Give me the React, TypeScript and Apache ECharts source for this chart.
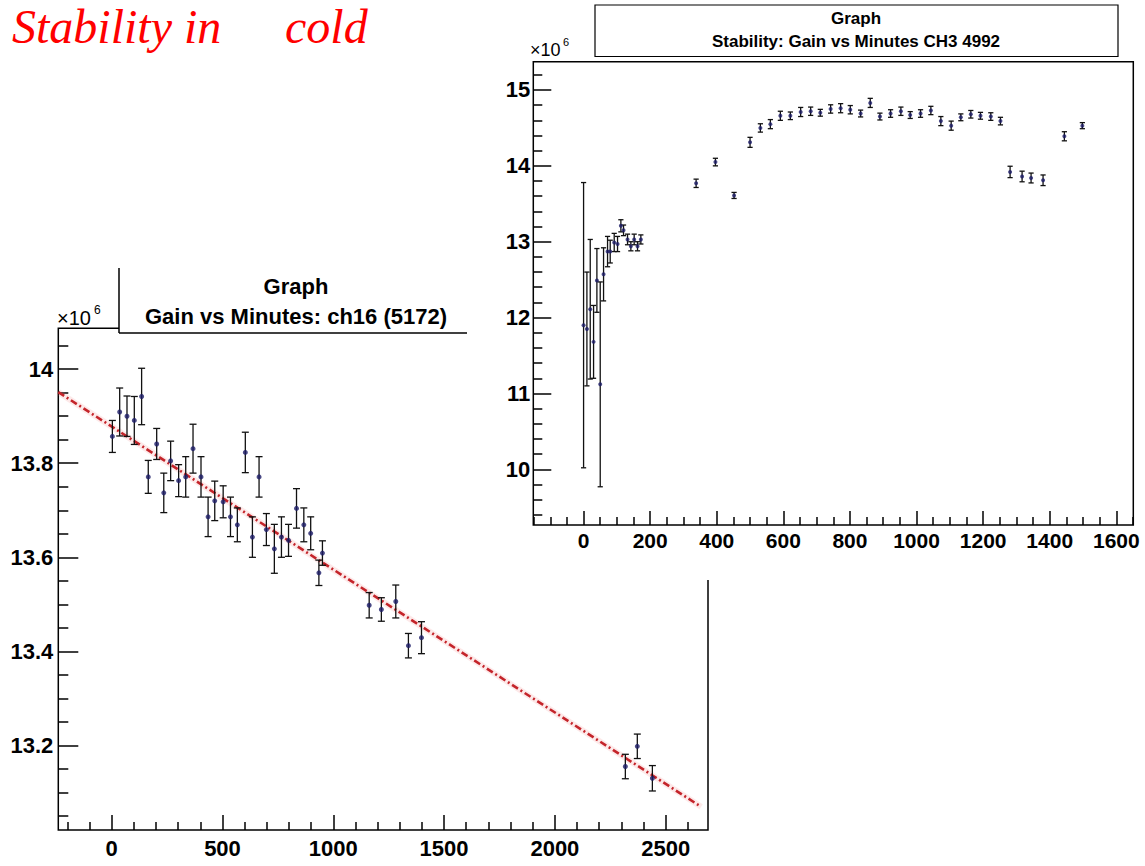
import { useEffect, useRef } from "react";
import * as echarts from "echarts";

// ---------- Left plot: Gain vs Minutes: ch16 (5172) ----------
const leftMinutes = [3, 36, 69, 102, 135, 165, 203, 235, 266, 302, 334, 367, 403, 435, 465, 503, 536, 567, 603, 635, 665, 698, 734, 766, 798, 834, 867, 898, 935, 951, 1162, 1217, 1282, 1339, 1398, 2318, 2372, 2440];
const leftGain = [13.857, 13.909, 13.9, 13.891, 13.942, 13.771, 13.841, 13.737, 13.805, 13.763, 13.771, 13.831, 13.771, 13.686, 13.72, 13.718, 13.686, 13.669, 13.823, 13.643, 13.771, 13.659, 13.618, 13.643, 13.636, 13.704, 13.669, 13.651, 13.567, 13.609, 13.498, 13.489, 13.506, 13.412, 13.429, 13.155, 13.198, 13.13];
const leftErr = [0.034, 0.051, 0.043, 0.051, 0.06, 0.035, 0.033, 0.042, 0.042, 0.034, 0.043, 0.052, 0.043, 0.042, 0.042, 0.034, 0.042, 0.036, 0.043, 0.043, 0.043, 0.034, 0.052, 0.043, 0.034, 0.042, 0.036, 0.035, 0.027, 0.026, 0.027, 0.025, 0.035, 0.026, 0.034, 0.026, 0.026, 0.027];
// linear fit (x10^6)
const fitIntercept = 13.878;
const fitSlope = -3.04e-4;
const fitRange = [-241, 2660];

const leftXRange = [-241, 2691];
const leftYRange = [13.02, 14.087];
const leftXMajor = [0, 500, 1000, 1500, 2000, 2500];
const leftXMinor = [-200, -100, 100, 200, 300, 400, 600, 700, 800, 900, 1100, 1200, 1300, 1400, 1600, 1700, 1800, 1900, 2100, 2200, 2300, 2400, 2600];
const leftYMajor = [13.2, 13.4, 13.6, 13.8, 14];
const leftYMinor = [13.05, 13.1, 13.15, 13.25, 13.3, 13.35, 13.45, 13.5, 13.55, 13.65, 13.7, 13.75, 13.85, 13.9, 13.95, 14.05];

// ---------- Right plot: Stability: Gain vs Minutes CH3 4992 ----------
const rightMinutes = [0, 10, 20, 30, 40, 50, 60, 72, 80, 92, 102, 112, 120, 132, 142, 152, 162, 172, 338, 396, 452, 500, 531, 561, 591, 621, 652, 682, 711, 742, 772, 801, 832, 861, 890, 922, 953, 981, 1012, 1043, 1073, 1104, 1133, 1163, 1192, 1223, 1252, 1281, 1317, 1344, 1380, 1444, 1498];
const rightGain = [11.9, 11.85, 12.11, 11.68, 12.49, 11.12, 12.57, 12.87, 12.87, 12.99, 12.97, 13.21, 13.15, 13.03, 12.94, 13.03, 12.94, 13.03, 13.77, 14.05, 13.61, 14.31, 14.5, 14.55, 14.66, 14.66, 14.71, 14.72, 14.7, 14.75, 14.76, 14.74, 14.69, 14.83, 14.65, 14.69, 14.72, 14.67, 14.69, 14.73, 14.59, 14.53, 14.64, 14.68, 14.66, 14.65, 14.59, 13.92, 13.86, 13.84, 13.81, 14.39, 14.53];
const rightErr = [1.88, 0.75, 0.92, 0.48, 0.42, 1.35, 0.35, 0.2, 0.15, 0.12, 0.1, 0.08, 0.07, 0.07, 0.06, 0.07, 0.06, 0.06, 0.055, 0.05, 0.04, 0.066, 0.055, 0.06, 0.06, 0.05, 0.06, 0.055, 0.045, 0.055, 0.06, 0.055, 0.045, 0.06, 0.045, 0.05, 0.055, 0.045, 0.05, 0.055, 0.06, 0.06, 0.045, 0.05, 0.045, 0.05, 0.05, 0.075, 0.07, 0.065, 0.07, 0.06, 0.04];

const rightXRange = [-151, 1651];
const rightYRange = [9.266, 15.373];
const rightXMajor = [0, 200, 400, 600, 800, 1000, 1200, 1400, 1600];
const rightXMinor = [-150, -100, -50, 50, 100, 150, 250, 300, 350, 450, 500, 550, 650, 700, 750, 850, 900, 950, 1050, 1100, 1150, 1250, 1300, 1350, 1450, 1500, 1550, 1650];
const rightYMajor = [10, 11, 12, 13, 14, 15];
const rightYMinor = [9.4, 9.6, 9.8, 10.2, 10.4, 10.6, 10.8, 11.2, 11.4, 11.6, 11.8, 12.2, 12.4, 12.6, 12.8, 13.2, 13.4, 13.6, 13.8, 14.2, 14.4, 14.6, 14.8, 15.2];

const FONT = '"Liberation Sans Narrow", "Liberation Sans", Arial, sans-serif';
const SERIF = '"Liberation Serif", "Times New Roman", serif';

function errorBarRenderer(cap: number) {
  return (_params: any, api: any) => {
    const x = api.value(0);
    const y = api.value(1);
    const e = api.value(2);
    const c = api.coord([x, y]);
    const hi = api.coord([x, y + e]);
    const lo = api.coord([x, y - e]);
    const style = { stroke: "#111", lineWidth: 1.3 };
    return {
      type: "group",
      children: [
        { type: "line", shape: { x1: c[0], y1: hi[1], x2: c[0], y2: lo[1] }, style },
        { type: "line", shape: { x1: c[0] - cap, y1: hi[1], x2: c[0] + cap, y2: hi[1] }, style },
        { type: "line", shape: { x1: c[0] - cap, y1: lo[1], x2: c[0] + cap, y2: lo[1] }, style },
      ],
    };
  };
}

function axisPair(
  kind: "x" | "y",
  gridIndex: number,
  range: number[],
  major: number[],
  minor: number[],
  majorLen: number,
  minorLen: number,
  labelSize: number,
  margin: number,
  z: number
) {
  const base = {
    type: "value",
    gridIndex,
    min: range[0],
    max: range[1],
    position: kind === "x" ? "bottom" : "left",
    z,
    axisLine: { show: false, onZero: false },
    splitLine: { show: false },
  };
  return [
    {
      ...base,
      axisTick: { show: true, inside: true, length: majorLen, customValues: major, lineStyle: { color: "#000", width: 1.5 } },
      axisLabel: {
        show: true,
        customValues: major,
        margin,
        color: "#000",
        fontFamily: FONT,
        fontWeight: "bold",
        fontSize: labelSize,
        formatter: (v: number) => String(Number(v.toFixed(2))),
      },
    },
    {
      ...base,
      axisTick: { show: true, inside: true, length: minorLen, customValues: minor, lineStyle: { color: "#000", width: 1.5 } },
      axisLabel: { show: false },
    },
  ];
}

export default function App() {
  const ref = useRef<HTMLDivElement>(null);

  useEffect(() => {
    if (!ref.current) return;
    document.body.style.margin = "0";
    const chart = echarts.init(ref.current, null, { renderer: "svg" });

    const leftPoints = leftMinutes.map((m, i) => [m, leftGain[i]]);
    const leftBars = leftMinutes.map((m, i) => [m, leftGain[i], leftErr[i]]);
    const rightPoints = rightMinutes.map((m, i) => [m, rightGain[i]]);
    const rightBars = rightMinutes.map((m, i) => [m, rightGain[i], rightErr[i]]);
    const fitLine = fitRange.map((m) => [m, fitIntercept + fitSlope * m]);

    const option: any = {
      animation: false,
      backgroundColor: "#fff",
      grid: [
        { left: 58.3, top: 328.3, width: 649.7, height: 501.7, show: true, borderColor: "#000", borderWidth: 1.5, backgroundColor: "transparent", z: 0 },
        { left: 533.3, top: 61.7, width: 600, height: 463.3, show: true, borderColor: "#000", borderWidth: 1.5, backgroundColor: "transparent", z: 10 },
      ],
      xAxis: [
        ...axisPair("x", 0, leftXRange, leftXMajor, leftXMinor, 15, 8, 22, 7, 0),
        ...axisPair("x", 1, rightXRange, rightXMajor, rightXMinor, 14, 8, 21, 5, 10),
      ],
      yAxis: [
        ...axisPair("y", 0, leftYRange, leftYMajor, leftYMinor, 20, 10, 22, 5, 0),
        ...axisPair("y", 1, rightYRange, rightYMajor, rightYMinor, 18, 9, 22, 3, 10),
      ],
      series: [
        {
          type: "line",
          xAxisIndex: 0,
          yAxisIndex: 0,
          data: fitLine,
          showSymbol: false,
          z: 1,
          lineStyle: { color: "rgba(240,120,120,0.16)", width: 6 },
        },
        {
          type: "line",
          xAxisIndex: 0,
          yAxisIndex: 0,
          data: fitLine,
          showSymbol: false,
          z: 1.5,
          lineStyle: { color: "#c4242a", width: 2.6, type: [7, 3, 2, 3] },
        },
        {
          type: "custom",
          xAxisIndex: 0,
          yAxisIndex: 0,
          data: leftBars,
          encode: { x: 0, y: 1 },
          renderItem: errorBarRenderer(3.5),
          z: 2,
        },
        {
          type: "scatter",
          xAxisIndex: 0,
          yAxisIndex: 0,
          data: leftPoints,
          symbol: "circle",
          symbolSize: 5,
          itemStyle: { color: "#1b1b66" },
          z: 3,
        },
        {
          type: "custom",
          xAxisIndex: 2,
          yAxisIndex: 2,
          data: rightBars,
          encode: { x: 0, y: 1 },
          renderItem: errorBarRenderer(2.6),
          z: 11,
        },
        {
          type: "scatter",
          xAxisIndex: 2,
          yAxisIndex: 2,
          data: rightPoints,
          symbol: "circle",
          symbolSize: 4,
          itemStyle: { color: "#1b1b66" },
          z: 12,
        },
      ],
      graphic: [
        // page heading (kept inside the top edge)
        { type: "text", x: 12, y: 26, z: 20, style: { text: "Stability in", font: `italic 48px ${SERIF}`, fill: "#ff0000", textVerticalAlign: "middle" } },
        { type: "text", x: 285, y: 26, z: 20, style: { text: "cold", font: `italic 48px ${SERIF}`, fill: "#ff0000", textVerticalAlign: "middle" } },
        // left title box
        { type: "rect", shape: { x: 119, y: 262, width: 360, height: 71 }, style: { fill: "#fff" }, z: 4 },
        { type: "line", shape: { x1: 119, y1: 268, x2: 119, y2: 333 }, style: { stroke: "#000", lineWidth: 1.5 }, z: 4 },
        { type: "line", shape: { x1: 119, y1: 333, x2: 479, y2: 333 }, style: { stroke: "#000", lineWidth: 1.5 }, z: 4 },
        { type: "text", x: 296, y: 286, z: 4, style: { text: "Graph", font: `bold 22px ${FONT}`, fill: "#000", textAlign: "center", textVerticalAlign: "middle" } },
        { type: "text", x: 296, y: 316, z: 4, style: { text: "Gain vs Minutes: ch16 (5172)", font: `bold 22px ${FONT}`, fill: "#000", textAlign: "center", textVerticalAlign: "middle" } },
        { type: "text", x: 57, y: 318, z: 4, style: { text: "×10", font: `20px ${FONT}`, fill: "#000", textVerticalAlign: "middle" } },
        { type: "text", x: 94, y: 310, z: 4, style: { text: "6", font: `12px ${FONT}`, fill: "#000", textVerticalAlign: "middle" } },
        // canvas of the right picture, laid over the left one
        { type: "rect", shape: { x: 467, y: 0, width: 678, height: 580 }, style: { fill: "#fff" }, z: 5 },
        // right title box
        { type: "rect", shape: { x: 595, y: 5, width: 523, height: 51.5 }, style: { fill: "#fff", stroke: "#000", lineWidth: 1.2 }, z: 13 },
        { type: "text", x: 856, y: 18, z: 14, style: { text: "Graph", font: `bold 17px ${FONT}`, fill: "#000", textAlign: "center", textVerticalAlign: "middle" } },
        { type: "text", x: 856, y: 41, z: 14, style: { text: "Stability: Gain vs Minutes CH3 4992", font: `bold 17px ${FONT}`, fill: "#000", textAlign: "center", textVerticalAlign: "middle" } },
        { type: "text", x: 530, y: 50, z: 14, style: { text: "×10", font: `18px ${FONT}`, fill: "#000", textVerticalAlign: "middle" } },
        { type: "text", x: 563, y: 42, z: 14, style: { text: "6", font: `11px ${FONT}`, fill: "#000", textVerticalAlign: "middle" } },
      ],
    };

    chart.setOption(option);
    return () => chart.dispose();
  }, []);

  return (
    <div
      ref={ref}
      style={{ position: "absolute", left: 0, top: 0, width: 1145, height: 866, background: "#fff" }}
    />
  );
}
